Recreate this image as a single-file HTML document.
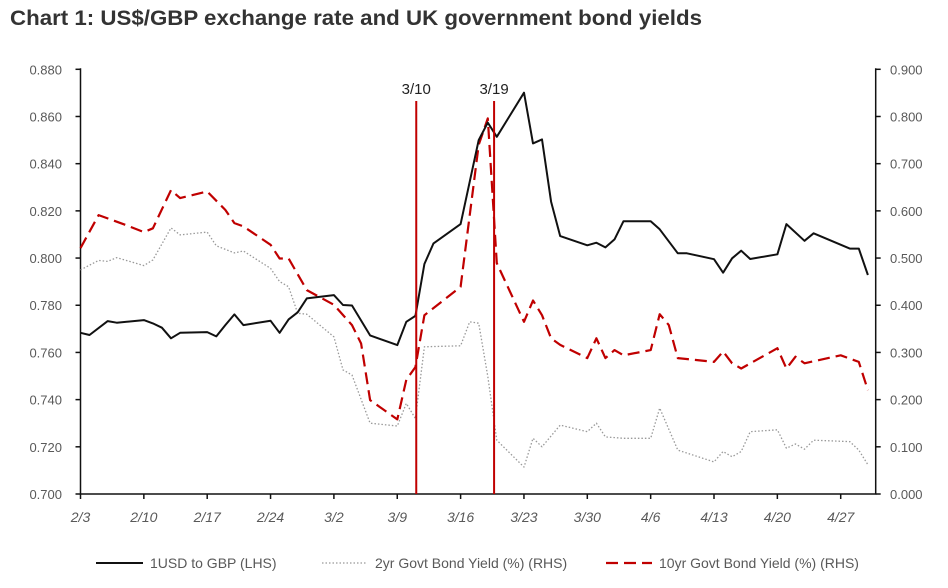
<!DOCTYPE html>
<html><head><meta charset="utf-8"><style>
body{margin:0;background:#fff;width:948px;height:583px;overflow:hidden;font-family:"Liberation Sans",sans-serif}
svg text{font-family:"Liberation Sans",sans-serif}
</style></head><body>
<svg id="c" width="948" height="583">
<text x="10" y="25" font-size="21" font-weight="bold" fill="#333" textLength="692" lengthAdjust="spacingAndGlyphs">Chart 1: US$/GBP exchange rate and UK government bond yields</text>
<g id="g"></g>
</svg>
<script>
const fxDays=[0,1,3,4,7,8,9,10,11,14,15,16,17,18,21,22,23,24,25,28,29,30,32,35,36,37,38,39,42,44,45,46,49,50,51,52,53,56,57,58,59,60,63,64,66,67,70,71,72,73,74,77,78,80,81,85,86,87];
const fxVals=[0.7683,0.7674,0.7733,0.7726,0.7737,0.7723,0.7705,0.7660,0.7683,0.7686,0.7668,0.7716,0.7761,0.7716,0.7734,0.7683,0.7740,0.7770,0.7829,0.7843,0.7801,0.7799,0.7672,0.7631,0.7730,0.7755,0.7975,0.8062,0.8144,0.8500,0.8574,0.8514,0.8701,0.8486,0.8503,0.8239,0.8093,0.8054,0.8065,0.8045,0.8079,0.8156,0.8156,0.8122,0.8020,0.8020,0.7995,0.7938,0.7999,0.8031,0.7996,0.8016,0.8144,0.8073,0.8105,0.8040,0.8040,0.7928];
const y10Days=[0,2,5,7,8,10,11,14,16,17,18,21,22,23,25,28,30,31,32,35,36,37,38,42,44,45,46,49,50,51,52,53,56,57,58,59,60,63,64,65,66,70,71,72,73,77,78,79,80,84,86,87];
const y10Vals=[0.521,0.591,0.570,0.555,0.563,0.644,0.627,0.641,0.602,0.574,0.567,0.528,0.499,0.499,0.432,0.401,0.358,0.319,0.199,0.158,0.242,0.269,0.379,0.439,0.740,0.796,0.489,0.365,0.410,0.379,0.330,0.316,0.288,0.330,0.288,0.305,0.294,0.305,0.381,0.358,0.288,0.280,0.302,0.277,0.266,0.309,0.266,0.291,0.277,0.294,0.280,0.220];
const y2Days=[0,2,3,4,7,8,10,11,14,15,17,18,21,22,23,24,25,28,29,30,32,35,36,37,38,42,43,44,45,46,49,50,51,53,56,57,58,60,63,64,66,70,71,72,73,74,77,78,79,80,81,85,86,87];
const y2Vals=[0.475,0.495,0.493,0.501,0.484,0.496,0.564,0.549,0.555,0.526,0.511,0.515,0.478,0.450,0.439,0.383,0.381,0.333,0.263,0.252,0.150,0.144,0.192,0.160,0.312,0.314,0.365,0.362,0.249,0.114,0.057,0.118,0.100,0.146,0.132,0.150,0.121,0.118,0.118,0.182,0.093,0.068,0.090,0.079,0.090,0.132,0.136,0.097,0.106,0.095,0.114,0.111,0.093,0.062];
const leftTicks=["0.700","0.720","0.740","0.760","0.780","0.800","0.820","0.840","0.860","0.880"];
const rightTicks=["0.000","0.100","0.200","0.300","0.400","0.500","0.600","0.700","0.800","0.900"];
const xLabels=["2/3","2/10","2/17","2/24","3/2","3/9","3/16","3/23","3/30","4/6","4/13","4/20","4/27"];
const eventDays=[37.1,45.7];
const eventLabels=["3/10","3/19"];
const X0=80.5,DX=9.05,XR=875.7,YT=69.3,YB=494;
const xs=d=>X0+d*DX;
const yL=v=>YB-(v-0.7)/0.18*(YB-YT);
const yR=v=>YB-v/0.9*(YB-YT);
const g=document.getElementById('g');
const NS='http://www.w3.org/2000/svg';
function mk(t,a){const e=document.createElementNS(NS,t);for(const k in a)e.setAttribute(k,a[k]);g.appendChild(e);return e;}
let e;
e=mk('path',{d:`M${X0},${YT-1}V${YB}H${XR}V${YT-1}`,fill:'none',stroke:'#111','stroke-width':1.5});


leftTicks.forEach((t,i)=>{const y=yL(0.7+i*0.02);
 e=mk('line',{x1:X0-5,x2:X0,y1:y,y2:y,stroke:'#111','stroke-width':1.5});
 
 
 e=mk('text',{x:62,y:y+5,'text-anchor':'end','font-size':13,fill:'#595959'});e.textContent=t;
 
 
});
rightTicks.forEach((t,i)=>{const y=yR(i*0.1);
 e=mk('line',{x1:XR,x2:XR+5,y1:y,y2:y,stroke:'#111','stroke-width':1.5});
 
 
 e=mk('text',{x:890,y:y+5,'font-size':13,fill:'#595959'});e.textContent=t;
 
 
});
xLabels.forEach((t,i)=>{const x=xs(i*7);
 e=mk('line',{x1:x,x2:x,y1:YB,y2:YB+5,stroke:'#111','stroke-width':1.5});
 
 
 e=mk('text',{x:x,y:YB+28,'text-anchor':'middle','font-size':14,'font-style':'italic',fill:'#595959'});e.textContent=t;
 
 
});
function line(days,vals,f,attrs,name){
 const d=days.map((dd,i)=>(i?'L':'M')+xs(dd).toFixed(1)+','+f(vals[i]).toFixed(1)).join('');
 e=mk('path',Object.assign({d:d,fill:'none','stroke-linejoin':'round'},attrs));
 
 
}
line(y2Days,y2Vals,yR,{stroke:'#999','stroke-width':1.3,'stroke-dasharray':'1.5 2'},'series-2yr-yield');
line(y10Days,y10Vals,yR,{stroke:'#c00000','stroke-width':2.2,'stroke-dasharray':'12 6'},'series-10yr-yield');
line(fxDays,fxVals,yL,{stroke:'#111','stroke-width':2},'series-usd-gbp');
eventDays.forEach((d,i)=>{const x=xs(d);
 e=mk('line',{x1:x,x2:x,y1:101,y2:YB,stroke:'#c00000','stroke-width':2});
 
 
 e=mk('text',{x:x,y:94,'text-anchor':'middle','font-size':15,fill:'#222'});e.textContent=eventLabels[i];
 
 
});
const leg=[[96,143,{stroke:'#111','stroke-width':2},150,'1USD to GBP  (LHS)'],[322,367,{stroke:'#999','stroke-width':1.3,'stroke-dasharray':'1.5 2'},375,'2yr Govt Bond Yield (%) (RHS)'],[606,652,{stroke:'#c00000','stroke-width':2.2,'stroke-dasharray':'12 6'},659,'10yr Govt Bond Yield (%)  (RHS)']];
leg.forEach(l=>{
 e=mk('line',Object.assign({x1:l[0],x2:l[1],y1:563,y2:563},l[2]));
 
 
 e=mk('text',{x:l[3],y:568,'font-size':14,fill:'#595959'});e.textContent=l[4];
 
 
});
</script>
</body></html>
